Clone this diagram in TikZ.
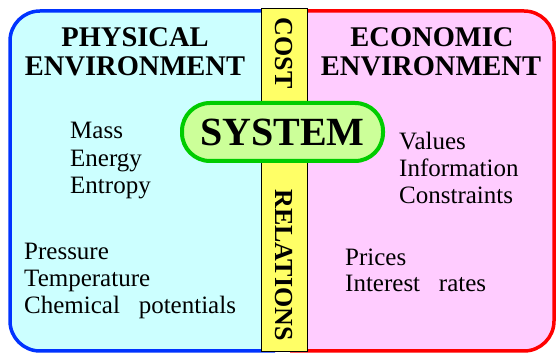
\documentclass[tikz,border=0pt]{standalone}
\usepackage{fontspec}
\setmainfont{Liberation Serif}
\definecolor{cyanfill}{HTML}{CCFFFF}
\definecolor{pinkfill}{HTML}{FFCCFF}
\definecolor{yellowfill}{HTML}{FFFF66}
\definecolor{greenfill}{HTML}{CCFF99}
\definecolor{greenline}{HTML}{00CC00}
\definecolor{blueline}{HTML}{0033FF}
\definecolor{redline}{HTML}{FF0000}
\begin{document}
\begin{tikzpicture}[x=1pt,y=-1pt,
  heading/.style={anchor=base,inner sep=0,font=\fontsize{28.5}{32}\selectfont\bfseries},
  item/.style={anchor=base west,inner sep=0,font=\fontsize{25}{29}\selectfont},
  vert/.style={rotate=-90,font=\fontsize{26}{30}\selectfont\bfseries}]
\useasboundingbox (0,0) rectangle (557,355);
% left and right environments
\filldraw[fill=cyanfill,draw=blueline,line width=3.5pt,rounded corners=30]
  (275,11) -- (10,11) -- (10,351) -- (275,351);
\filldraw[fill=pinkfill,draw=redline,line width=3.5pt,rounded corners=30]
  (290,11) -- (554,11) -- (554,351) -- (290,351);
% strip
\node[draw=black,fill=yellowfill,line width=1pt,minimum width=46,minimum height=343,inner sep=0] (strip) at (284,180.5) {};
\node[vert] (cost) at (284,53) {COST};
\node[vert] (rel) at (284,265) {RELATIONS};
% headings
\node[heading] (ph1) at (135,47) {PHYSICAL};
\node[heading] (ph2) at (135,76) {ENVIRONMENT};
\node[heading] (ec1) at (432,47) {ECONOMIC};
\node[heading] (ec2) at (431,76) {ENVIRONMENT};
% system
\node[draw=greenline,fill=greenfill,line width=4pt,rounded corners=28,minimum width=201,minimum height=58,inner sep=0,
  font=\fontsize{40}{44}\selectfont\bfseries] (sys) at (282.5,132) {SYSTEM};
% items
\node[item] (mass) at (70,139) {Mass};
\node[item] (energy) at (70,167) {Energy};
\node[item] (entropy) at (70,194) {Entropy};
\node[item] (press) at (24,260) {Pressure};
\node[item] (temp) at (24,287) {Temperature};
\node[item] (chem) at (24,314) {Chemical\hspace{0.5em} potentials};
\node[item] (values) at (399,150) {Values};
\node[item] (info) at (399,177) {Information};
\node[item] (constr) at (399,204) {Constraints};
\node[item] (prices) at (345,266) {Prices};
\node[item] (interest) at (345,292) {Interest\hspace{0.5em} rates};
\end{tikzpicture}
\end{document}
